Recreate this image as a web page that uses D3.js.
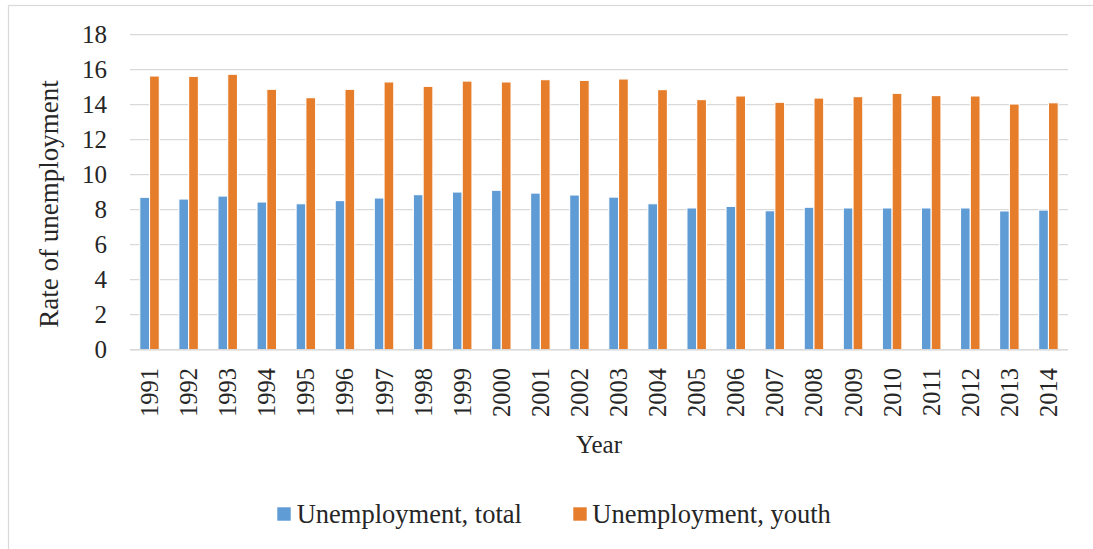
<!DOCTYPE html>
<html>
<head>
<meta charset="utf-8">
<script src="https://cdn.jsdelivr.net/npm/d3@7"></script>
<style>
  html, body { margin: 0; padding: 0; background: #fff; }
  svg { display: block; font-family: "Liberation Serif", "Times New Roman", serif; }
</style>
</head>
<body>
<svg id="chart" width="1093" height="549"></svg>
<script>
// Unemployment rates by year
const years = ["1991","1992","1993","1994","1995","1996","1997","1998","1999","2000",
               "2001","2002","2003","2004","2005","2006","2007","2008","2009","2010",
               "2011","2012","2013","2014"];
const totalRate = [8.71, 8.61, 8.78, 8.44, 8.34, 8.52, 8.67, 8.86, 9.01, 9.11,
                   8.95, 8.84, 8.72, 8.34, 8.10, 8.19, 7.94, 8.14, 8.10, 8.10,
                   8.10, 8.10, 7.93, 7.98];
const youthRate = [15.64, 15.62, 15.74, 14.88, 14.40, 14.88, 15.30, 15.05, 15.35, 15.30,
                   15.43, 15.39, 15.47, 14.86, 14.29, 14.50, 14.14, 14.38, 14.46, 14.65,
                   14.52, 14.50, 14.04, 14.11];
const seriesNames = ["Unemployment, total", "Unemployment, youth"];
const yTicks = [0, 2, 4, 6, 8, 10, 12, 14, 16, 18];

const colors = ["#5f9bd4", "#e57d2b"];
const textColor = "#262626";
const gridColor = "#d9d9d9";

const svg = d3.select("#chart");
const plot = { left: 130, right: 1068, top: 34.7, bottom: 349.7 };

// outer chart frame
svg.append("rect")
  .attr("x", 8.5).attr("y", 5.5)
  .attr("width", 1100).attr("height", 560)
  .attr("fill", "none").attr("stroke", gridColor).attr("stroke-width", 1.2);

const x0 = d3.scaleBand().domain(years).range([plot.left, plot.right])
  .paddingInner(0.5).paddingOuter(0.25);
const x1 = d3.scaleBand().domain([0, 1]).range([0, x0.bandwidth()]);
const y = d3.scaleLinear().domain([0, 18]).range([plot.bottom, plot.top]);

// horizontal gridlines
svg.append("g").selectAll("line").data(yTicks).join("line")
  .attr("x1", plot.left).attr("x2", plot.right)
  .attr("y1", d => y(d)).attr("y2", d => y(d))
  .attr("stroke", gridColor).attr("stroke-width", 1.3);

// y tick labels
svg.append("g").selectAll("text").data(yTicks).join("text")
  .attr("x", 107).attr("y", d => y(d)).attr("dy", "0.34em")
  .attr("text-anchor", "end").attr("font-size", 25).attr("fill", textColor)
  .text(d => d);

// bars
const rows = years.map((yr, i) => ({ year: yr, values: [totalRate[i], youthRate[i]] }));
const groups = svg.append("g").selectAll("g").data(rows).join("g")
  .attr("transform", d => `translate(${x0(d.year)},0)`);
groups.selectAll("rect").data(d => d.values.map((v, k) => ({ v, k }))).join("rect")
  .attr("x", d => x1(d.k))
  .attr("width", x1.bandwidth())
  .attr("y", d => y(d.v))
  .attr("height", d => y(0) - y(d.v))
  .attr("fill", d => colors[d.k])
  .attr("stroke", "#ffffff").attr("stroke-width", 1.1);

// baseline
svg.append("line")
  .attr("x1", plot.left).attr("x2", plot.right)
  .attr("y1", y(0)).attr("y2", y(0))
  .attr("stroke", gridColor).attr("stroke-width", 1.5);

// x tick labels, rotated
svg.append("g").selectAll("text").data(years).join("text")
  .attr("transform", d => `translate(${x0(d) + x0.bandwidth() / 2 + 8.5},368) rotate(-90)`)
  .attr("text-anchor", "end").attr("font-size", 24.5).attr("fill", textColor)
  .text(d => d);

// axis titles
svg.append("text")
  .attr("x", (plot.left + plot.right) / 2).attr("y", 453)
  .attr("text-anchor", "middle").attr("font-size", 25).attr("fill", textColor)
  .text("Year");

svg.append("text")
  .attr("transform", "translate(58,204) rotate(-90)")
  .attr("text-anchor", "middle").attr("font-size", 27).attr("fill", textColor)
  .text("Rate of unemployment");

// legend
const legendPos = [277.3, 573.3];
const legend = svg.append("g").selectAll("g").data(seriesNames).join("g")
  .attr("transform", (d, i) => `translate(${legendPos[i]},0)`);
legend.append("rect")
  .attr("x", 0).attr("y", 507.3).attr("width", 13.4).attr("height", 13.4)
  .attr("fill", (d, i) => colors[i]);
legend.append("text")
  .attr("x", (d, i) => i === 0 ? 19.4 : 19)
  .attr("y", 523).attr("font-size", 26.5).attr("fill", textColor)
  .text(d => d);
</script>
</body>
</html>
